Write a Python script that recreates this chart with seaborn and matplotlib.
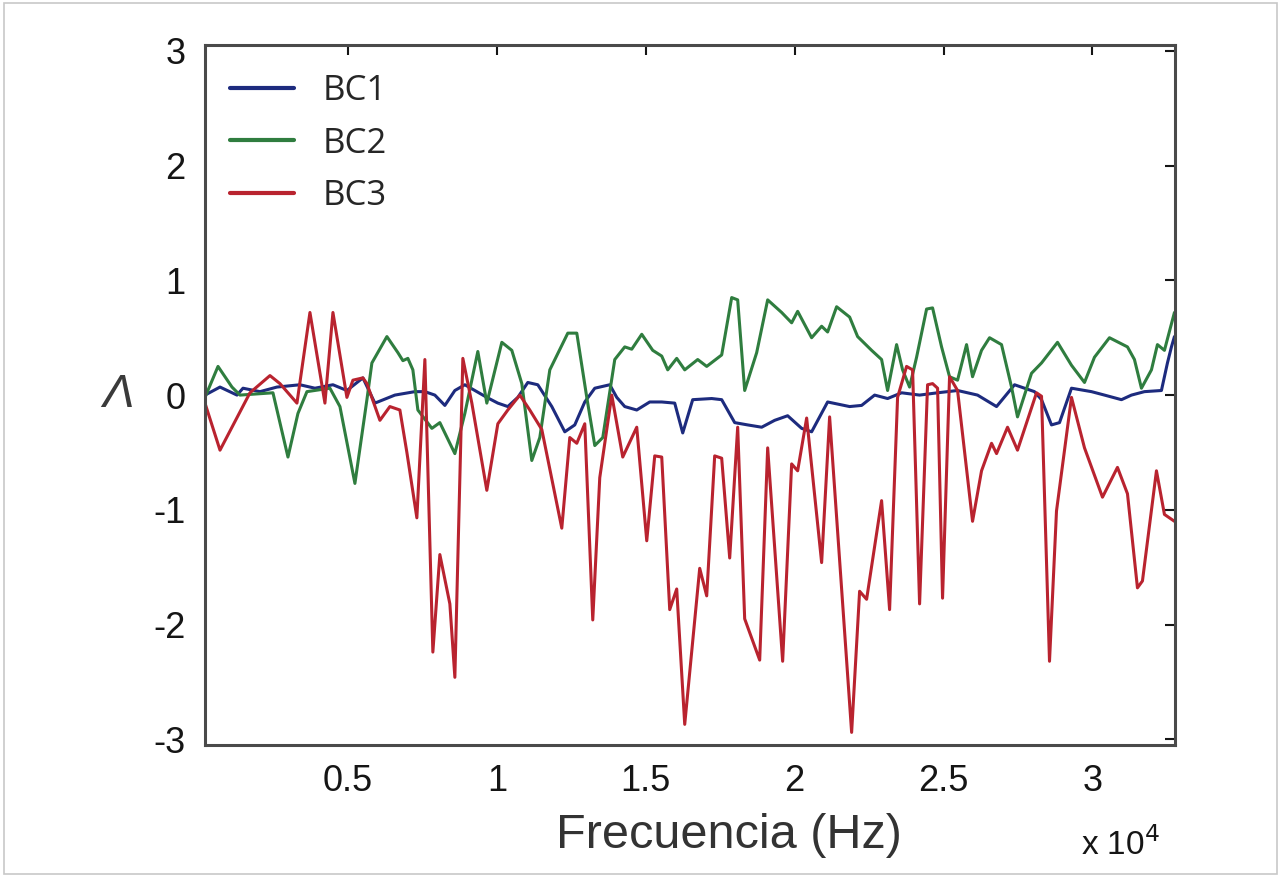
import matplotlib
matplotlib.use("Agg")
import matplotlib.pyplot as plt
import matplotlib.ticker as mticker
from matplotlib.patches import Rectangle
import seaborn as sns
import pandas as pd

# ---- data (frequency in Hz, Lambda value) ----
bc1_freq = [201, 705, 1275, 1477, 2047, 2617, 3389, 3893, 4497, 4966, 5503, 5906,
            6577, 7248, 7584, 7919, 8255, 8591, 8926, 9262, 9664, 10034, 10369,
            10705, 11040, 11376, 11846, 12282, 12617, 12953, 13289, 13792, 14027,
            14295, 14698, 15134, 15537, 15973, 16242, 16577, 17215, 17550, 17987,
            18423, 18893, 19329, 19765, 20235, 20570, 21107, 21846, 22248, 22685,
            23121, 23591, 24195, 24799, 25470, 26141, 26779, 27383, 28054, 28289,
            28624, 28893, 29295, 29966, 30403, 30973, 31309, 31745, 32315, 32517,
            32651, 32752]
bc1_vals = [0.0, 0.07, 0.0, 0.06, 0.03, 0.07, 0.09, 0.06, 0.09, 0.04, 0.15, -0.07,
            0.0, 0.03, 0.03, 0.0, -0.09, 0.04, 0.09, 0.04, -0.02, -0.07, -0.10,
            -0.02, 0.11, 0.09, -0.10, -0.32, -0.26, -0.06, 0.06, 0.09, -0.02,
            -0.10, -0.13, -0.06, -0.06, -0.07, -0.33, -0.04, -0.03, -0.04, -0.24,
            -0.26, -0.28, -0.22, -0.18, -0.29, -0.32, -0.06, -0.10, -0.09, 0.0,
            -0.03, 0.02, 0.0, 0.02, 0.04, 0.0, -0.10, 0.09, 0.03, -0.04,
            -0.26, -0.24, 0.06, 0.03, 0.0, -0.04, 0.0, 0.03, 0.04, 0.28,
            0.42, 0.51]

bc2_freq = [201, 638, 1107, 1376, 2483, 2987, 3322, 3624, 4396, 4732, 5235, 5638,
            5805, 6309, 6678, 6846, 7013, 7181, 7349, 7819, 8087, 8591, 8926,
            9362, 9664, 10168, 10503, 10839, 11174, 11443, 11779, 12383, 12685,
            13020, 13289, 13557, 13960, 14295, 14530, 14866, 15235, 15537, 15738,
            16040, 16309, 16745, 17047, 17550, 17886, 18087, 18322, 18725, 19094,
            19564, 19899, 20101, 20570, 20906, 21107, 21409, 21846, 22114, 22584,
            22919, 23121, 23423, 23624, 23859, 24094, 24430, 24631, 24933, 25201,
            25470, 25772, 25973, 26275, 26544, 26946, 27282, 27483, 27953, 28289,
            28826, 29295, 29732, 30067, 30570, 31175, 31409, 31644, 31980, 32181,
            32416, 32752]
bc2_vals = [-0.02, 0.25, 0.07, 0.0, 0.02, -0.54, -0.16, 0.03, 0.06, -0.10, -0.77, -0.04,
            0.28, 0.51, 0.37, 0.30, 0.32, 0.22, -0.13, -0.29, -0.24, -0.51, -0.16,
            0.38, -0.07, 0.46, 0.39, 0.10, -0.57, -0.37, 0.22, 0.54, 0.54,
            -0.02, -0.44, -0.37, 0.31, 0.42, 0.40, 0.53, 0.39, 0.34, 0.22,
            0.32, 0.22, 0.31, 0.25, 0.35, 0.85, 0.83, 0.04, 0.37, 0.83,
            0.72, 0.63, 0.73, 0.50, 0.60, 0.55, 0.77, 0.68, 0.51, 0.39,
            0.31, 0.04, 0.44, 0.22, 0.07, 0.33, 0.75, 0.76, 0.42, 0.16,
            0.13, 0.44, 0.16, 0.39, 0.50, 0.44, 0.07, -0.19, 0.19, 0.28,
            0.46, 0.26, 0.11, 0.33, 0.50, 0.42, 0.31, 0.06, 0.22, 0.44,
            0.39, 0.72]

bc3_freq = [201, 705, 1711, 2383, 2718, 3289, 3725, 4228, 4497, 4966, 5168, 5503,
            5638, 6074, 6409, 6745, 6980, 7315, 7584, 7852, 8087, 8423, 8591,
            8859, 9161, 9664, 10034, 10369, 10772, 11107, 11510, 12181, 12450,
            12685, 12953, 13221, 13456, 13859, 14228, 14698, 15034, 15302, 15537,
            15805, 16040, 16309, 16812, 17047, 17315, 17550, 17819, 18087, 18322,
            18826, 19094, 19597, 19899, 20101, 20403, 20906, 21174, 21913, 22181,
            22416, 22919, 23188, 23456, 23758, 23960, 24195, 24463, 24631, 24799,
            24966, 25201, 25470, 25973, 26275, 26611, 26779, 27148, 27483, 28121,
            28289, 28557, 28792, 29295, 29732, 30336, 30839, 31175, 31510, 31678,
            32148, 32416, 32752]
bc3_vals = [-0.07, -0.48, 0.02, 0.17, 0.10, -0.07, 0.72, -0.07, 0.72, -0.02, 0.13, 0.15,
            0.10, -0.22, -0.10, -0.13, -0.50, -1.07, 0.31, -2.24, -1.39, -1.82, -2.46,
            0.32, -0.07, -0.83, -0.25, -0.13, 0.0, -0.13, -0.30, -1.16, -0.37,
            -0.42, -0.25, -1.96, -0.72, 0.0, -0.54, -0.28, -1.27, -0.53, -0.54,
            -1.87, -1.69, -2.87, -1.51, -1.75, -0.53, -0.55, -1.42, -0.28, -1.95,
            -2.31, -0.46, -2.32, -0.60, -0.66, -0.20, -1.46, -0.19, -2.94, -1.71,
            -1.78, -0.92, -1.87, -0.02, 0.25, 0.22, -1.82, 0.09, 0.10, 0.06,
            -1.77, 0.16, 0.04, -1.10, -0.66, -0.42, -0.51, -0.28, -0.48, 0.02,
            -0.01, -2.32, -1.01, -0.02, -0.46, -0.89, -0.63, -0.86, -1.68, -1.62,
            -0.66, -1.04, -1.10]

series_names = ["BC1", "BC2", "BC3"]
series_colors = ["#1d2b7e", "#2f7d3f", "#b9232f"]
x_ticks = [5000, 10000, 15000, 20000, 25000, 30000]
y_ticks = [-3, -2, -1, 0, 1, 2, 3]

df = pd.concat([
    pd.DataFrame({"freq": bc1_freq, "val": bc1_vals, "serie": "BC1"}),
    pd.DataFrame({"freq": bc2_freq, "val": bc2_vals, "serie": "BC2"}),
    pd.DataFrame({"freq": bc3_freq, "val": bc3_vals, "serie": "BC3"}),
], ignore_index=True)

sns.set_style("white")
plt.rcParams['font.family'] = ['Liberation Sans', 'DejaVu Sans']
plt.rcParams['axes.unicode_minus'] = False

fig = plt.figure(figsize=(12.81, 8.77), dpi=100)
ax = fig.add_axes([0.160, 0.1505, 0.757, 0.798])

sns.lineplot(data=df, x="freq", y="val", hue="serie", hue_order=series_names,
             palette=dict(zip(series_names, series_colors)), estimator=None,
             sort=False, linewidth=2.2, ax=ax, legend=False)

ax.set_xlim(200, 32760)
ax.set_ylim(-3.05, 3.05)
ax.set_xticks(x_ticks)
ax.set_yticks(y_ticks)
ax.xaxis.set_major_formatter(mticker.FuncFormatter(lambda v, p: f"{v / 1e4:g}"))
ax.tick_params(direction="in", length=7, width=1.5, top=True, right=True,
               labelsize=26, colors="#151515", pad=14)
for s in ax.spines.values():
    s.set_color("#4a4a4a")
    s.set_linewidth(2.2)

ax.set_xlabel("Frecuencia (Hz)", fontsize=35, color="#333333")
ax.xaxis.set_label_coords(0.54, -0.097)
ax.set_ylabel("Λ", fontsize=34, style="italic", color="#3a3a3a", rotation=0,
              labelpad=25, va="center")
ax.text(0.985, -0.143, r"x 10$^4$", transform=ax.transAxes, ha="right", va="center",
        fontsize=24, color="#151515")

handles = [plt.Line2D([], [], color=c, linewidth=3) for c in series_colors]
ax.legend(handles, series_names, loc="upper left", frameon=False,
          bbox_to_anchor=(0.026, 0.959), borderaxespad=0, borderpad=0,
          handlelength=1.85, handletextpad=0.8, labelspacing=0.54,
          prop={"family": "Open Sans", "size": 25})

fig.patches.append(Rectangle((0.003, 0.003), 0.994, 0.994, transform=fig.transFigure,
                             fill=False, edgecolor="#c8c8c8", linewidth=1.2))

fig.savefig("out.png", dpi=100)
